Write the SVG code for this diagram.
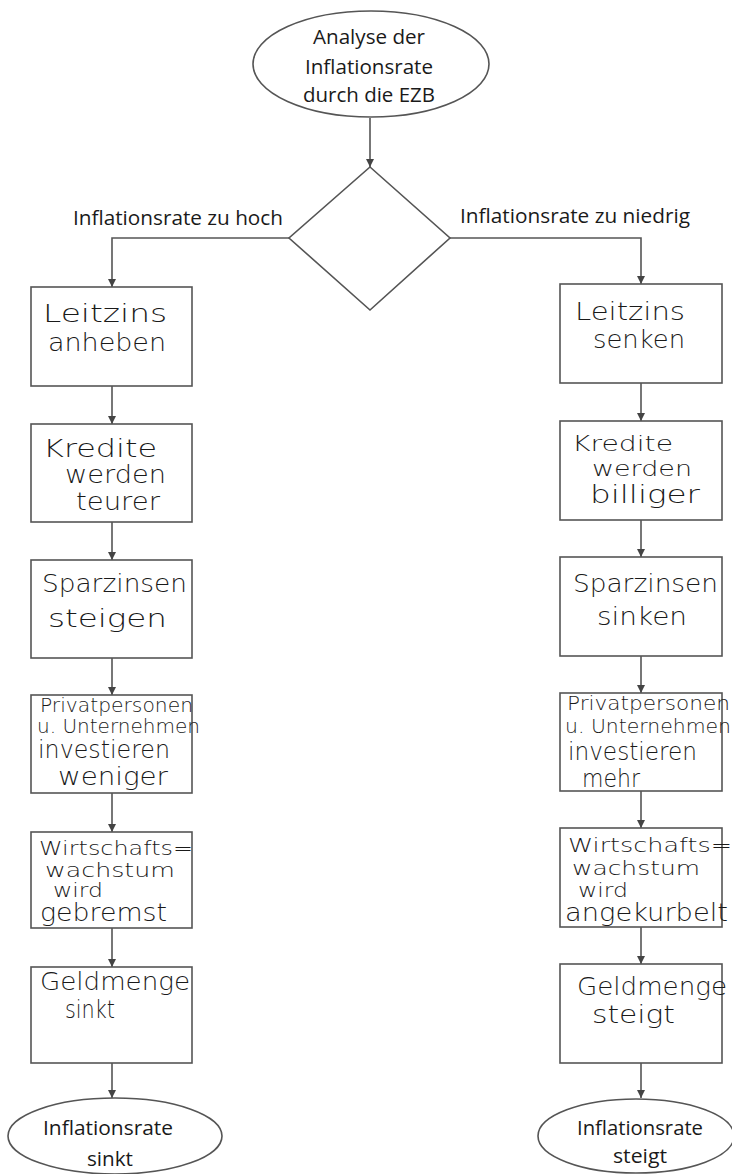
<svg xmlns="http://www.w3.org/2000/svg" width="732" height="1174" viewBox="0 0 732 1174">
<style>
.shape{fill:#fff;stroke:#555;stroke-width:1.6}
.conn{fill:none;stroke:#555;stroke-width:1.6}
.pt{font-family:"Open Sans","Liberation Sans",sans-serif;font-size:19.5px;fill:#1a1a1a}
.hw{font-family:"DejaVu Sans","Liberation Sans",sans-serif;font-weight:200;font-size:24px;fill:#1a1a1a}
.hs{font-family:"DejaVu Sans","Liberation Sans",sans-serif;font-weight:200;font-size:19px;fill:#1a1a1a}
.hm{font-size:21px}
</style>
<defs>
<marker id="ah" viewBox="0 0 10 10" refX="10" refY="5" markerWidth="5" markerHeight="5" orient="auto" markerUnits="strokeWidth">
<path d="M0,0 L10,5 L0,10 Z" fill="#444"/>
</marker>
</defs>
<rect width="732" height="1174" fill="#fff"/>
<g id="connectors">
<line class="conn" x1="370" y1="118" x2="370" y2="167" marker-end="url(#ah)"/>
<polyline class="conn" points="289,238 112,238 112,287" marker-end="url(#ah)"/>
<polyline class="conn" points="450,238 641,238 641,284" marker-end="url(#ah)"/>
<line class="conn" x1="112" y1="386" x2="112" y2="424" marker-end="url(#ah)"/>
<line class="conn" x1="112" y1="522" x2="112" y2="560" marker-end="url(#ah)"/>
<line class="conn" x1="112" y1="658" x2="112" y2="695" marker-end="url(#ah)"/>
<line class="conn" x1="112" y1="793" x2="112" y2="832" marker-end="url(#ah)"/>
<line class="conn" x1="112" y1="928" x2="112" y2="967" marker-end="url(#ah)"/>
<line class="conn" x1="112" y1="1063" x2="112" y2="1098" marker-end="url(#ah)"/>
<line class="conn" x1="641" y1="383" x2="641" y2="421" marker-end="url(#ah)"/>
<line class="conn" x1="641" y1="520" x2="641" y2="557" marker-end="url(#ah)"/>
<line class="conn" x1="641" y1="656" x2="641" y2="693" marker-end="url(#ah)"/>
<line class="conn" x1="641" y1="791" x2="641" y2="828" marker-end="url(#ah)"/>
<line class="conn" x1="641" y1="927" x2="641" y2="964" marker-end="url(#ah)"/>
<line class="conn" x1="641" y1="1063" x2="641" y2="1098" marker-end="url(#ah)"/>
<text class="pt" x="73" y="225" textLength="210" lengthAdjust="spacingAndGlyphs">Inflationsrate zu hoch</text>
<text class="pt" x="460" y="223" textLength="230" lengthAdjust="spacingAndGlyphs">Inflationsrate zu niedrig</text>
</g>
<g id="start">
<ellipse class="shape" cx="371" cy="64" rx="118" ry="53"/>
<text class="pt" x="313" y="44" textLength="112" lengthAdjust="spacingAndGlyphs">Analyse der</text>
<text class="pt" x="305" y="74" textLength="128" lengthAdjust="spacingAndGlyphs">Inflationsrate</text>
<text class="pt" x="303" y="102" textLength="132" lengthAdjust="spacingAndGlyphs">durch die EZB</text>
</g>
<g id="decision">
<polygon class="shape" points="370,167 450,238 370,310 289,238"/>
</g>
<g id="l1">
<rect class="shape" x="31" y="287" width="161" height="99"/>
<text class="hw" x="43" y="322" textLength="124" lengthAdjust="spacingAndGlyphs">Leitzins</text>
<text class="hw" x="48" y="351" textLength="118" lengthAdjust="spacingAndGlyphs">anheben</text>
</g>
<g id="l2">
<rect class="shape" x="31" y="424" width="161" height="98"/>
<text class="hw" x="43" y="457" textLength="114" lengthAdjust="spacingAndGlyphs">Kredite</text>
<text class="hw" x="65" y="483" textLength="101" lengthAdjust="spacingAndGlyphs">werden</text>
<text class="hw" x="76" y="510" textLength="84" lengthAdjust="spacingAndGlyphs">teurer</text>
</g>
<g id="l3">
<rect class="shape" x="31" y="560" width="161" height="98"/>
<text class="hw" x="42" y="592" textLength="145" lengthAdjust="spacingAndGlyphs">Sparzinsen</text>
<text class="hw" x="48" y="627" textLength="119" lengthAdjust="spacingAndGlyphs">steigen</text>
</g>
<g id="l4">
<rect class="shape" x="31" y="695" width="161" height="98"/>
<text class="hs" x="40" y="712" textLength="153" lengthAdjust="spacingAndGlyphs">Privatpersonen</text>
<text class="hs" x="37" y="733" textLength="163" lengthAdjust="spacingAndGlyphs">u. Unternehmen</text>
<text class="hw" x="38" y="758" textLength="132" lengthAdjust="spacingAndGlyphs">investieren</text>
<text class="hw" x="58" y="785" textLength="110" lengthAdjust="spacingAndGlyphs">weniger</text>
</g>
<g id="l5">
<rect class="shape" x="31" y="832" width="161" height="96"/>
<text class="hs" x="39" y="855" textLength="154" lengthAdjust="spacingAndGlyphs">Wirtschafts=</text>
<text class="hs" x="45" y="877" textLength="130" lengthAdjust="spacingAndGlyphs">wachstum</text>
<text class="hs" x="53" y="897" textLength="50" lengthAdjust="spacingAndGlyphs">wird</text>
<text class="hw" x="40" y="921" textLength="127" lengthAdjust="spacingAndGlyphs">gebremst</text>
</g>
<g id="l6">
<rect class="shape" x="31" y="967" width="161" height="96"/>
<text class="hw" x="40" y="990" textLength="150" lengthAdjust="spacingAndGlyphs">Geldmenge</text>
<text class="hw" x="65" y="1018" textLength="50" lengthAdjust="spacingAndGlyphs">sinkt</text>
</g>
<g id="l7">
<ellipse class="shape" cx="115" cy="1136" rx="107" ry="38"/>
<text class="pt" x="108" y="1135" text-anchor="middle" textLength="130" lengthAdjust="spacingAndGlyphs">Inflationsrate</text>
<text class="pt" x="110" y="1166" text-anchor="middle" textLength="46" lengthAdjust="spacingAndGlyphs">sinkt</text>
</g>
<g id="r1">
<rect class="shape" x="560" y="284" width="162" height="99"/>
<text class="hw" x="575" y="320" textLength="110" lengthAdjust="spacingAndGlyphs">Leitzins</text>
<text class="hw" x="593" y="348" textLength="92" lengthAdjust="spacingAndGlyphs">senken</text>
</g>
<g id="r2">
<rect class="shape" x="560" y="421" width="162" height="99"/>
<text class="hw hm" x="572" y="451" textLength="101" lengthAdjust="spacingAndGlyphs">Kredite</text>
<text class="hw hm" x="592" y="476" textLength="100" lengthAdjust="spacingAndGlyphs">werden</text>
<text class="hw" x="590" y="503" textLength="110" lengthAdjust="spacingAndGlyphs">billiger</text>
</g>
<g id="r3">
<rect class="shape" x="560" y="557" width="162" height="99"/>
<text class="hw" x="573" y="592" textLength="145" lengthAdjust="spacingAndGlyphs">Sparzinsen</text>
<text class="hw" x="597" y="625" textLength="90" lengthAdjust="spacingAndGlyphs">sinken</text>
</g>
<g id="r4">
<rect class="shape" x="560" y="693" width="162" height="98"/>
<text class="hs" x="567" y="710" textLength="163" lengthAdjust="spacingAndGlyphs">Privatpersonen</text>
<text class="hs" x="565" y="733" textLength="166" lengthAdjust="spacingAndGlyphs">u. Unternehmen</text>
<text class="hw" x="568" y="760" textLength="129" lengthAdjust="spacingAndGlyphs">investieren</text>
<text class="hw" x="582" y="787" textLength="58" lengthAdjust="spacingAndGlyphs">mehr</text>
</g>
<g id="r5">
<rect class="shape" x="560" y="828" width="162" height="99"/>
<text class="hs" x="568" y="852" textLength="164" lengthAdjust="spacingAndGlyphs">Wirtschafts=</text>
<text class="hs" x="572" y="875" textLength="128" lengthAdjust="spacingAndGlyphs">wachstum</text>
<text class="hs" x="578" y="897" textLength="50" lengthAdjust="spacingAndGlyphs">wird</text>
<text class="hw" x="565" y="921" textLength="163" lengthAdjust="spacingAndGlyphs">angekurbelt</text>
</g>
<g id="r6">
<rect class="shape" x="560" y="964" width="162" height="99"/>
<text class="hw" x="577" y="995" textLength="150" lengthAdjust="spacingAndGlyphs">Geldmenge</text>
<text class="hw" x="592" y="1023" textLength="83" lengthAdjust="spacingAndGlyphs">steigt</text>
</g>
<g id="r7">
<ellipse class="shape" cx="636" cy="1136" rx="98" ry="37"/>
<text class="pt" x="640" y="1135" text-anchor="middle" textLength="126" lengthAdjust="spacingAndGlyphs">Inflationsrate</text>
<text class="pt" x="640" y="1163" text-anchor="middle" textLength="54" lengthAdjust="spacingAndGlyphs">steigt</text>
</g>
</svg>
